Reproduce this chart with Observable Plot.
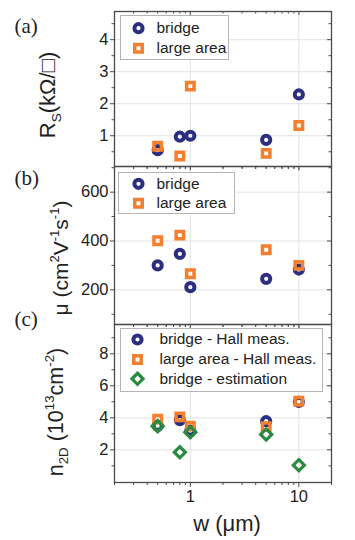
<!DOCTYPE html>
<html><head><meta charset="utf-8">
<script src="https://cdn.jsdelivr.net/npm/d3@7"></script>
<script src="https://cdn.jsdelivr.net/npm/@observablehq/plot@0.6"></script>
<style>
body{margin:0;background:#fff;}
#wrap{position:relative;width:355px;height:540px;overflow:hidden;font-family:"Liberation Sans",Arial,sans-serif;}
#wrap svg{position:absolute;left:0;overflow:visible;background:transparent;}
</style></head><body><div id="wrap"></div>
<script>
// ---- data ----
const widths = [0.5, 0.8, 1, 5, 10];
const rsBridge = [0.55, 0.97, 1.0, 0.87, 2.29];
const rsLarge = [0.67, 0.37, 2.55, 0.45, 1.32];
const muBridge = [300, 347, 211, 245, 283];
const muLarge = [401, 424, 266, 364, 300];
const nBridgeHall = [3.5, 3.86, 3.2, 3.79, 5.0];
const nLargeHall = [3.92, 4.06, 3.48, 3.45, 5.04];
const nBridgeEst = [3.48, 1.85, 3.1, 2.96, 1.04];
const xMajor = [1, 10];
const xMinor = [0.2, 0.3, 0.4, 0.5, 0.6, 0.7, 0.8, 0.9, 2, 3, 4, 5, 6, 7, 8, 9, 20];
const xTickLabels = ["1", "10"];
const rsTicks = [1, 2, 3, 4], rsMinor = [0.5, 1.5, 2.5, 3.5, 4.5];
const muTicks = [200, 400, 600], muMinor = [100, 300, 500, 700];
const nTicks = [2, 4, 6, 8], nMinor = [1, 3, 5, 7, 9];
const legendA = ["bridge", "large area"];
const legendC = ["bridge - Hall meas.", "large area - Hall meas.", "bridge - estimation"];

const NAVY = "#2c2f7f", ORANGE = "#f47f2e", GREEN = "#2a8b40";
const FRAME = "#4a4a4a", GRID = "#e3e3e3";
const ML = 114, MR = 24, W = 355, FW = W - ML - MR;

const styles = {
  circle: {symbol: "circle", r: 4.1, stroke: NAVY, strokeWidth: 4, fill: "none"},
  square: {symbol: "square", r: 4.2, stroke: ORANGE, strokeWidth: 3.5, fill: "none"},
  diamond: {symbol: "diamond2", r: 5, stroke: GREEN, strokeWidth: 3.2, fill: "none"}
};

const wrap = document.getElementById("wrap");

function panel(cfg) {
  const FH = cfg.frameH;
  const marks = [
    Plot.gridY(cfg.yMajor, {stroke: GRID, strokeOpacity: 1}),
    Plot.gridX(xMajor, {stroke: GRID, strokeOpacity: 1}),
    // inward top ticks
    Plot.tickX(xMajor, {x: d => d, insetBottom: FH - 4, stroke: FRAME}),
    Plot.tickX(xMinor, {x: d => d, insetBottom: FH - 2.5, stroke: FRAME}),
    // inward right ticks
    Plot.tickY(cfg.yMajor, {y: d => d, insetLeft: FW - 4, stroke: FRAME}),
    Plot.tickY(cfg.yMinor, {y: d => d, insetLeft: FW - 2.5, stroke: FRAME}),
    // outward left minor ticks
    Plot.tickY(cfg.yMinor, {y: d => d, insetLeft: -2.5, insetRight: FW, stroke: FRAME}),
    // outward bottom minor ticks
    Plot.tickX(xMinor, {x: d => d, insetTop: FH, insetBottom: -3, stroke: FRAME}),
    Plot.axisY(cfg.yMajor, {anchor: "left", tickSize: 4, tickPadding: 2, fontSize: 16.5, label: null, stroke: FRAME, color: "#222"})
  ];
  if (cfg.showX) {
    marks.push(Plot.axisX(xMajor, {anchor: "bottom", tickSize: 5, tickPadding: 3, fontSize: 16.5, label: null,
      tickFormat: d => xTickLabels[xMajor.indexOf(d)], stroke: FRAME}));
    marks.push(Plot.text(["w (μm)"], {frameAnchor: "bottom", dx: 4, dy: 41, lineAnchor: "middle", fontSize: 22, fill: "#222"}));
  } else {
    marks.push(Plot.tickX(xMajor, {x: d => d, insetTop: FH, insetBottom: -5, stroke: FRAME}));
  }
  marks.push(Plot.frame({stroke: FRAME, strokeWidth: 1.3}));
  // legend box
  const lb = cfg.legendBox;
  marks.push(Plot.frame({fill: "white", stroke: "#b5b5b5", strokeWidth: 1,
    insetLeft: lb[0], insetTop: lb[1], insetRight: lb[2], insetBottom: lb[3]}));
  cfg.legend.forEach((lab, i) => {
    const st = styles[cfg.series[i].style];
    marks.push(Plot.dot([lab], {...st, frameAnchor: "top-left", dx: cfg.legendSymX, dy: cfg.legendRows[i]}));
    marks.push(Plot.text([lab], {frameAnchor: "top-left", dx: cfg.legendTextX, dy: cfg.legendRows[i],
      textAnchor: "start", lineAnchor: "middle", fontSize: 15.5, fill: "#222"}));
  });
  // data
  cfg.series.forEach(s => {
    const rows = widths.map((w, i) => ({w, v: s.values[i]}));
    marks.push(Plot.dot(rows, {x: "w", y: "v", ...styles[s.style]}));
  });
  // panel label
  marks.push(Plot.text([cfg.tag], {frameAnchor: "top-left", dx: 14 - ML, dy: cfg.tagDy, textAnchor: "start",
    lineAnchor: "middle", fontSize: 21, fontFamily: "Liberation Serif, Times New Roman, serif", fill: "#222"}));

  const svg = Plot.plot({
    width: W, height: cfg.height,
    marginLeft: ML, marginRight: MR, marginTop: 0, marginBottom: cfg.height - FH,
    x: {type: "log", domain: [0.2, 20], axis: null},
    y: {domain: cfg.yDomain, axis: null},
    style: {fontFamily: "Liberation Sans, Arial, sans-serif", fontSize: "16px", background: "transparent", overflow: "visible", color: "#222"},
    marks
  });
  svg.style.top = cfg.top + "px";
  // rotated y title with sub/superscripts
  const t = d3.select(svg).append("text")
    .attr("transform", `translate(${cfg.titleX},${cfg.titleY}) rotate(-90)`)
    .attr("text-anchor", "middle")
    .attr("fill", "#222")
    .style("font-family", "Liberation Sans, Arial, sans-serif")
    .style("font-size", cfg.titleSize + "px");
  let shift = 0;
  cfg.title.forEach(p => {
    const target = p.s === "sup" ? -0.42 * cfg.titleSize : p.s === "sub" ? 0.25 * cfg.titleSize : 0;
    const sp = t.append("tspan").text(p.t).attr("dy", target - shift);
    if (p.s) sp.style("font-size", (cfg.titleSize * 0.62) + "px");
    shift = target;
  });
  wrap.appendChild(svg);
}

panel({
  top: 11, height: 155, frameH: 155, yDomain: [0.04, 4.88], yMajor: rsTicks, yMinor: rsMinor,
  series: [{values: rsBridge, style: "circle"}, {values: rsLarge, style: "square"}],
  legend: legendA, legendBox: [6, 4, 103, 107], legendSymX: 24, legendTextX: 42, legendRows: [16.7, 36.7],
  tag: "(a)", tagDy: 14.5, titleX: 55, titleY: 84, titleSize: 22,
  title: [{t: "R"}, {t: "S", s: "sub"}, {t: "(kΩ/□)"}]
});
panel({
  top: 166, height: 158, frameH: 158, yDomain: [58, 705], yMajor: muTicks, yMinor: muMinor,
  series: [{values: muBridge, style: "circle"}, {values: muLarge, style: "square"}],
  legend: legendA, legendBox: [4, 6, 97, 111], legendSymX: 24, legendTextX: 42, legendRows: [17.3, 36.7],
  tag: "(b)", tagDy: 12, titleX: 68, titleY: 92, titleSize: 21,
  title: [{t: "μ (cm"}, {t: "2", s: "sup"}, {t: "V"}, {t: "-1", s: "sup"}, {t: "s"}, {t: "-1", s: "sup"}, {t: ")"}]
});
panel({
  top: 324, height: 216, frameH: 158, yDomain: [-0.04, 9.83], yMajor: nTicks, yMinor: nMinor, showX: true,
  series: [{values: nBridgeHall, style: "circle"}, {values: nLargeHall, style: "square"}, {values: nBridgeEst, style: "diamond"}],
  legend: legendC, legendBox: [6, 4, 9, 91], legendSymX: 23, legendTextX: 45, legendRows: [15, 35, 54.3],
  tag: "(c)", tagDy: -5, titleX: 63, titleY: 88, titleSize: 21.5,
  title: [{t: "n"}, {t: "2D", s: "sub"}, {t: " (10"}, {t: "13", s: "sup"}, {t: "cm"}, {t: "-2", s: "sup"}, {t: ")"}]
});
</script></body></html>
